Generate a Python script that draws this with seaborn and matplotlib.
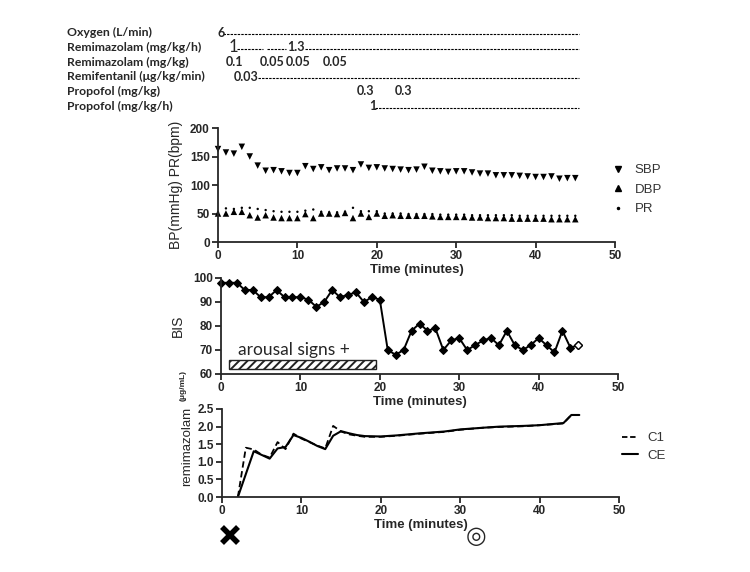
import numpy as np
import pandas as pd
import matplotlib
matplotlib.use("Agg")
import matplotlib.pyplot as plt
import matplotlib.transforms as mtransforms
import seaborn as sns
from matplotlib.lines import Line2D
from matplotlib.ticker import FormatStrFormatter, MultipleLocator

# ---------------- data ----------------
minutes = list(range(0, 46))
sbp = [163, 157, 155, 167, 150, 134, 125, 126, 124, 121, 121, 133, 128, 131, 126,
       129, 129, 126, 136, 130, 131, 129, 128, 127, 126, 127, 132, 125, 124, 123,
       124, 124, 122, 120, 120, 117, 117, 117, 116, 115, 114, 114, 115, 111, 112, 112]
dbp = [50, 50, 53, 53, 47, 43, 47, 43, 42, 42, 42, 49, 42, 50, 50, 49, 51, 42, 50, 44,
       50, 46, 47, 46, 46, 46, 46, 45, 44, 44, 44, 44, 43, 43, 42, 42, 42, 41, 41, 41,
       41, 41, 40, 40, 40, 40]
pr = [52, 59, 58, 60, 60, 58, 56, 54, 53, 53, 53, 55, 57, 53, 52, 52, 53, 60, 54, 54,
      54, 50, 50, 50, 49, 49, 49, 49, 48, 48, 48, 48, 47, 47, 47, 47, 47, 47, 46, 46,
      46, 46, 46, 46, 46, 46]
bis = [98, 98, 98, 95, 95, 92, 92, 95, 92, 92, 92, 91, 88, 90, 95, 92, 93, 94, 90, 92,
       91, 70, 68, 70, 78, 81, 78, 79, 70, 74, 75, 70, 72, 74, 75, 72, 78, 72, 70, 72,
       75, 72, 69, 78, 71, 72]

ce_time = [2, 4, 6, 7, 8, 9, 10, 11, 12, 13, 14, 15, 16, 17, 18, 20, 22, 25, 28, 30,
           33, 35, 38, 40, 43, 44, 45]
ce_val = [0.0, 1.30, 1.09, 1.38, 1.42, 1.76, 1.68, 1.57, 1.45, 1.36, 1.74, 1.87, 1.81,
          1.76, 1.73, 1.72, 1.75, 1.81, 1.86, 1.92, 1.97, 2.00, 2.02, 2.04, 2.10, 2.33, 2.33]
c1_time = [2, 3, 4, 5, 6, 7, 8, 9, 10, 11, 12, 13, 14, 15, 16, 17, 18, 20, 22, 25, 28,
           30, 33, 35, 38, 40, 43, 44, 45]
c1_val = [0.0, 1.40, 1.35, 1.20, 1.12, 1.56, 1.36, 1.80, 1.66, 1.56, 1.46, 1.38, 2.02,
          1.86, 1.78, 1.74, 1.71, 1.71, 1.74, 1.80, 1.85, 1.91, 1.97, 1.99, 2.01, 2.04,
          2.09, 2.33, 2.33]

arousal_start = 1.0
arousal_end = 19.5
arousal_label = "arousal signs +"
event_times = [1, 32]

header_rows = ["Oxygen (L/min)", "Remimazolam (mg/kg/h)", "Remimazolam (mg/kg)",
               "Remifentanil (\u03bcg/kg/min)", "Propofol (mg/kg)", "Propofol (mg/kg/h)"]
dose_row = [0, 1, 1, 2, 2, 2, 2, 3, 4, 4, 5]
dose_time = [0.0, 1.3, 8.7, 1.0, 5.3, 8.5, 13.2, 2.0, 17.5, 22.3, 19.1]
dose_text = ["6", "1", "1.3", "0.1", "0.05", "0.05", "0.05", "0.03", "0.3", "0.3", "1"]
inf_row = [0, 1, 1, 1, 3, 5]
inf_start = [0.6, 2.4, 6.2, 10.9, 5.0, 19.8]
inf_end = [45.5, 5.7, 8.6, 45.5, 45.5, 45.5]

# ---------------- style ----------------
sns.set_style("ticks")
plt.rcParams["font.family"] = ["Liberation Sans", "DejaVu Sans"]
plt.rcParams["hatch.linewidth"] = 1.4
plt.rcParams["hatch.color"] = "black"
plt.rcParams["axes.linewidth"] = 1.3

W, H = 750, 572
fig = plt.figure(figsize=(W / 100, H / 100), dpi=100)


def px_axes(left, top, right, bottom):
    return fig.add_axes([left / W, 1 - bottom / H, (right - left) / W, (bottom - top) / H])


def style_axes(ax):
    sns.despine(ax=ax)
    ax.tick_params(axis="both", length=4, width=1.3, labelsize=8.5, pad=2)
    for lab in ax.get_xticklabels() + ax.get_yticklabels():
        lab.set_fontweight("bold")
    ax.set_xlim(0, 50)
    ax.xaxis.set_major_locator(MultipleLocator(10))
    ax.set_xlabel("Time (minutes)", fontsize=9.5, fontweight="bold", labelpad=1)


# ---------------- header ----------------
axh = px_axes(218, 25, 615, 115)
axh.set_xlim(0, 50)
axh.set_ylim(5.6, -0.52)
axh.axis("off")
for i, name in enumerate(header_rows):
    axh.text(-19.0, i, name, ha="left", va="center", fontsize=8.8, fontweight="bold",
             family=["Lato", "DejaVu Sans"], clip_on=False)
for r, t, s in zip(dose_row, dose_time, dose_text):
    big = (r == 1 and s == "1")
    axh.text(t, r, s, ha="left", va="center", fontsize=12 if big else 9,
             fontweight="normal" if big else "bold", family=["Lato", "DejaVu Sans"],
             clip_on=False)
for r, a, b in zip(inf_row, inf_start, inf_end):
    axh.plot([a, b], [r + 0.1, r + 0.1], color="black", lw=0.8,
             linestyle=(0, (2.2, 1.0)), clip_on=False)

# ---------------- BP / PR ----------------
df_bp = pd.DataFrame({"t": minutes, "SBP": sbp, "DBP": dbp, "PR": pr})
ax1 = px_axes(218, 128, 615, 242)
sns.scatterplot(data=df_bp, x="t", y="SBP", marker="v", s=22, color="black",
                edgecolor="none", ax=ax1, clip_on=False)
sns.scatterplot(data=df_bp, x="t", y="DBP", marker="^", s=22, color="black",
                edgecolor="none", ax=ax1, clip_on=False)
sns.scatterplot(data=df_bp, x="t", y="PR", marker="o", s=3, color="black",
                edgecolor="none", ax=ax1, clip_on=False)
ax1.set_ylim(0, 200)
ax1.yaxis.set_major_locator(MultipleLocator(50))
style_axes(ax1)
ax1.set_ylabel("BP(mmHg) PR(bpm)", fontsize=10)
ax1.yaxis.set_label_coords(-0.088, 0.5)
h1 = [Line2D([], [], marker="v", ls="none", color="black", ms=4.5),
      Line2D([], [], marker="^", ls="none", color="black", ms=4.5),
      Line2D([], [], marker="o", ls="none", color="black", ms=1.5)]
fig.legend(h1, ["SBP", "DBP", "PR"], loc="upper left",
           bbox_to_anchor=(611 / W, 1 - 164 / H), frameon=False, fontsize=9.5,
           handlelength=1.0, handletextpad=0.8, labelspacing=0.55, borderpad=0,
           borderaxespad=0, labelcolor="#333333")

# ---------------- BIS ----------------
df_bis = pd.DataFrame({"t": minutes, "BIS": bis})
ax2 = px_axes(221, 278, 618, 374)
sns.lineplot(data=df_bis, x="t", y="BIS", color="black", lw=1.4, marker="D",
             markersize=4.5, markeredgecolor="black", ax=ax2, clip_on=False)
last = df_bis.iloc[[-1]]
ax2.plot(last["t"], last["BIS"], marker="D", ms=4.5, mfc="white", mec="black",
         mew=1.0, ls="none", clip_on=False, zorder=5)
ax2.barh(y=(62.1 + 65.7) / 2, width=arousal_end - arousal_start, left=arousal_start,
         height=3.6, color="white", edgecolor="#222222", hatch="////", lw=1.0)
ax2.text(arousal_start + 1.2, 70, arousal_label, fontsize=12.5,
         family=["Lato", "DejaVu Sans"], va="center", ha="left")
ax2.set_ylim(60, 100)
ax2.yaxis.set_major_locator(MultipleLocator(10))
style_axes(ax2)
ax2.set_ylabel("BIS", fontsize=10)
ax2.yaxis.set_label_coords(-0.091, 0.5)

# ---------------- remimazolam concentration ----------------
df_c1 = pd.DataFrame({"t": c1_time, "conc": c1_val})
df_ce = pd.DataFrame({"t": ce_time, "conc": ce_val})
ax3 = px_axes(222, 409, 619, 497)
sns.lineplot(data=df_c1, x="t", y="conc", color="black", lw=1.3, ax=ax3,
             linestyle=(0, (3.5, 2)))
sns.lineplot(data=df_ce, x="t", y="conc", color="black", lw=1.5, ax=ax3)
ax3.set_ylim(0, 2.5)
ax3.yaxis.set_major_locator(MultipleLocator(0.5))
ax3.yaxis.set_major_formatter(FormatStrFormatter("%.1f"))
style_axes(ax3)
ax3.set_ylabel("")
ax3.text(-0.088, 0.57, "remimazolam", rotation=90, transform=ax3.transAxes,
         ha="center", va="center", fontsize=9.5)
ax3.text(-0.098, 1.27, "(\u03bcg/mL)", rotation=90, transform=ax3.transAxes,
         ha="center", va="center", fontsize=6, fontweight="bold")
h3 = [Line2D([], [], color="black", lw=1.3, ls=(0, (3, 1.5))),
      Line2D([], [], color="black", lw=1.5)]
fig.legend(h3, ["C1", "CE"], loc="upper left", bbox_to_anchor=(622 / W, 1 - 432 / H),
           frameon=False, fontsize=9.5, handlelength=1.25, handletextpad=0.7,
           labelspacing=0.4, borderpad=0, borderaxespad=0, labelcolor="#333333")

# event symbols under the time axis
trans = mtransforms.blended_transform_factory(ax3.transData, ax3.transAxes)
ax3.plot([event_times[0]], [-0.43], marker="x", ms=11, mew=4, color="black",
         transform=trans, clip_on=False)
ax3.text(event_times[1], -0.44, "\u25ce", transform=trans, ha="center", va="center",
         fontsize=17, fontweight="bold", family=["DejaVu Sans"], clip_on=False)

fig.savefig("out.png", dpi=100)
